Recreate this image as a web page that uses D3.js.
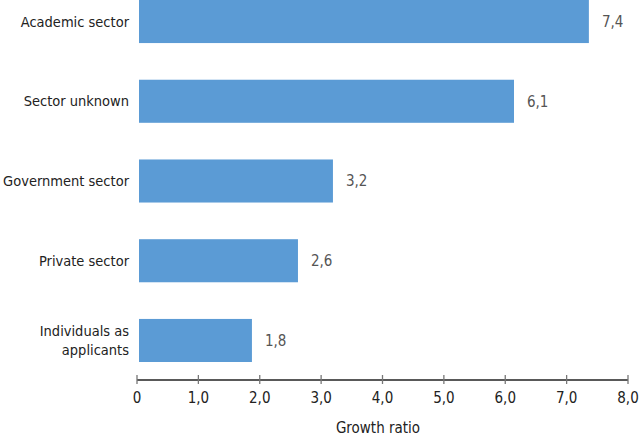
<!DOCTYPE html>
<html>
<head>
<meta charset="utf-8">
<script src="https://cdn.jsdelivr.net/npm/d3@7"></script>
<style>
	body { margin: 0; background: #fff; }
	svg text { font-family: "DejaVu Sans Condensed", "DejaVu Sans", sans-serif; font-stretch: condensed; }
</style>
</head>
<body>
<div id="chart"></div>
<script>
	var width = 640;
	var height = 439;

	// data
	var categories = ["Academic sector", "Sector unknown", "Government sector", "Private sector", "Individuals as|applicants"];
	var values = [7.33, 6.11, 3.16, 2.59, 1.84];
	var valueLabels = ["7,4", "6,1", "3,2", "2,6", "1,8"];
	var ticks = [0, 1, 2, 3, 4, 5, 6, 7, 8];
	var tickLabels = ["0", "1,0", "2,0", "3,0", "4,0", "5,0", "6,0", "7,0", "8,0"];

	var margin = { top: 0, right: 12, bottom: 59, left: 137 };

	const svg = d3.select("#chart").append("svg")
	.attr("width", width)
	.attr("height", height);

	const x = d3.scaleLinear()
	.domain([0, 8])
	.range([margin.left, width - margin.right]);

	const y = d3.scaleBand()
	.domain(categories)
	.range([0, 362])
	.paddingInner(0.46)
	.paddingOuter(0);

	// bars
	svg.append("g")
	.selectAll("rect")
	.data(values)
	.enter().append("rect")
	.attr("x", x(0) + 2)
	.attr("y", (d, i) => y(categories[i]))
	.attr("width", d => x(d) - x(0))
	.attr("height", y.bandwidth())
	.attr("fill", "#5b9bd5");

	// value labels
	svg.append("g")
	.selectAll("text")
	.data(values)
	.enter().append("text")
	.attr("x", d => x(d) + 15)
	.attr("y", (d, i) => y(categories[i]) + y.bandwidth() / 2)
	.attr("dy", "0.35em")
	.style("fill", "#555")
	.style("font-size", "15px")
	.text((d, i) => valueLabels[i]);

	// category labels
	const catLabel = svg.append("g")
	.selectAll("text")
	.data(categories)
	.enter().append("text")
	.attr("text-anchor", "end")
	.attr("x", 129)
	.attr("y", d => y(d) + y.bandwidth() / 2)
	.style("fill", "#222")
	.style("font-size", "14.5px");

	catLabel.each(function(d) {
		var lines = d.split("|");
		var t = d3.select(this);
		lines.forEach(function(line, i) {
			t.append("tspan")
			.attr("x", 129)
			.attr("dy", i == 0 ? (0.35 - (lines.length - 1) * 0.68) + "em" : "1.36em")
			.text(line);
		});
	});

	// axis
	const axisY = 380;
	const axis = svg.append("g")
	.attr("transform", "translate(0," + axisY + ")");

	axis.append("line")
	.attr("x1", x(0))
	.attr("x2", x(8))
	.attr("stroke", "#222")
	.attr("stroke-width", 1.3);

	axis.selectAll(".tick")
	.data(ticks)
	.enter().append("line")
	.attr("class", "tick")
	.attr("x1", d => x(d))
	.attr("x2", d => x(d))
	.attr("y1", -5)
	.attr("y2", 4)
	.attr("stroke", "#777")
	.attr("stroke-width", 1.3);

	axis.selectAll(".tickLabel")
	.data(ticks)
	.enter().append("text")
	.attr("class", "tickLabel")
	.attr("x", d => x(d))
	.attr("y", 18)
	.attr("dy", "0.35em")
	.attr("text-anchor", "middle")
	.style("fill", "#222")
	.style("font-size", "15px")
	.text((d, i) => tickLabels[i]);

	svg.append("text")
	.attr("x", 378)
	.attr("y", 428)
	.attr("dy", "0.35em")
	.attr("text-anchor", "middle")
	.style("fill", "#222")
	.style("font-size", "15px")
	.text("Growth ratio");
</script>
</body>
</html>
